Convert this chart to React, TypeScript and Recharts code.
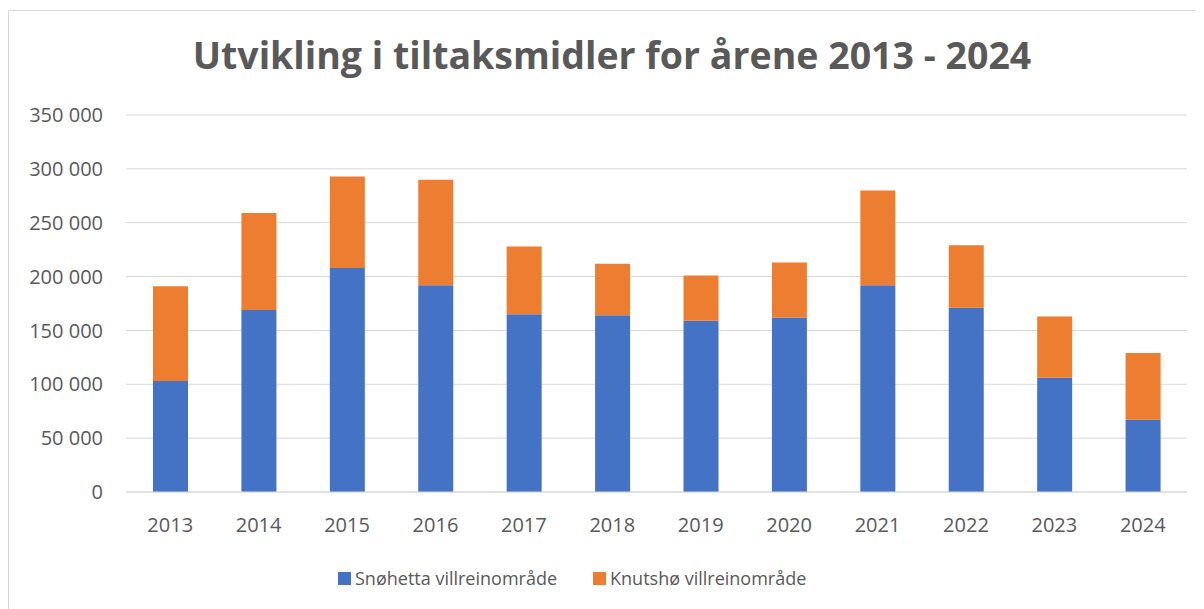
import React from "react";
import { BarChart, Bar, XAxis, YAxis, CartesianGrid, Legend } from "recharts";

const years = ["2013","2014","2015","2016","2017","2018","2019","2020","2021","2022","2023","2024"];
const snohetta = [103000,169000,208000,192000,165000,164000,159000,162000,192000,171000,106000,67000];
const knutsho = [88000,90000,85000,98000,63000,48000,42000,51000,88000,58000,57000,62000];
const yTicks = [0,50000,100000,150000,200000,250000,300000,350000];
const seriesNames = ["Snøhetta villreinområde","Knutshø villreinområde"];
const colors = ["#4472C4","#ED7D31"];
const title = "Utvikling i tiltaksmidler for årene 2013 - 2024";

const data = years.map((y, i) => ({ year: y, s: snohetta[i], k: knutsho[i] }));

const fmt = (v: number) => String(v).replace(/\B(?=(\d{3})+(?!\d))/g, " ");

const FONT = "'Open Sans', sans-serif";
const TXT = "#595959";

const LegendContent = (props: any) => {
  const payload = [...(props.payload || [])].sort(
    (a: any, b: any) => seriesNames.indexOf(a.value) - seriesNames.indexOf(b.value)
  );
  return (
    <div style={{ display: "flex", alignItems: "center", height: 22, fontFamily: FONT, fontSize: 18, color: TXT, whiteSpace: "nowrap" }}>
      {payload.map((p: any, i: number) => (
        <div key={i} style={{ display: "flex", alignItems: "center", marginRight: i === 0 ? 36 : 0 }}>
          <span style={{ display: "inline-block", width: 13, height: 13, background: p.color, marginRight: 4 }} />
          <span style={{ lineHeight: "22px" }}>{p.value}</span>
        </div>
      ))}
    </div>
  );
};

export default function App() {
  return (
    <div style={{ position: "relative", top: 2, width: 1210, height: 610, border: "1px solid #d9d9d9", boxSizing: "border-box", background: "#fff", overflow: "hidden" }}>
      <div style={{ position: "absolute", top: 25, left: 0, width: 1206, textAlign: "center", fontFamily: FONT, fontWeight: 700, fontSize: 37.5, lineHeight: "38px", color: TXT, whiteSpace: "nowrap" }}>
        {title}
      </div>
      <BarChart width={1200} height={600} data={data} margin={{ top: 104, right: 22, left: 0, bottom: 89 }} barSize={35}>
        <CartesianGrid vertical={false} stroke="#d9d9d9" strokeWidth={1} />
        <XAxis dataKey="year" height={30} tickLine={false} tickSize={0} tickMargin={26} axisLine={{ stroke: "#d9d9d9" }} tick={{ fill: TXT, fontSize: 20, fontFamily: FONT }} interval={0} />
        <YAxis width={117} domain={[0, 350000]} ticks={yTicks} tickFormatter={fmt} axisLine={false} tickLine={false} tickSize={0} tickMargin={23} tick={{ fill: TXT, fontSize: 20, fontFamily: FONT }} />
        <Legend verticalAlign="middle" align="center" content={<LegendContent />} wrapperStyle={{ position: "absolute", left: 329, top: 556, width: "auto" }} />
        <Bar dataKey="s" name={seriesNames[0]} stackId="a" fill={colors[0]} isAnimationActive={false} />
        <Bar dataKey="k" name={seriesNames[1]} stackId="a" fill={colors[1]} isAnimationActive={false} />
      </BarChart>
    </div>
  );
}
